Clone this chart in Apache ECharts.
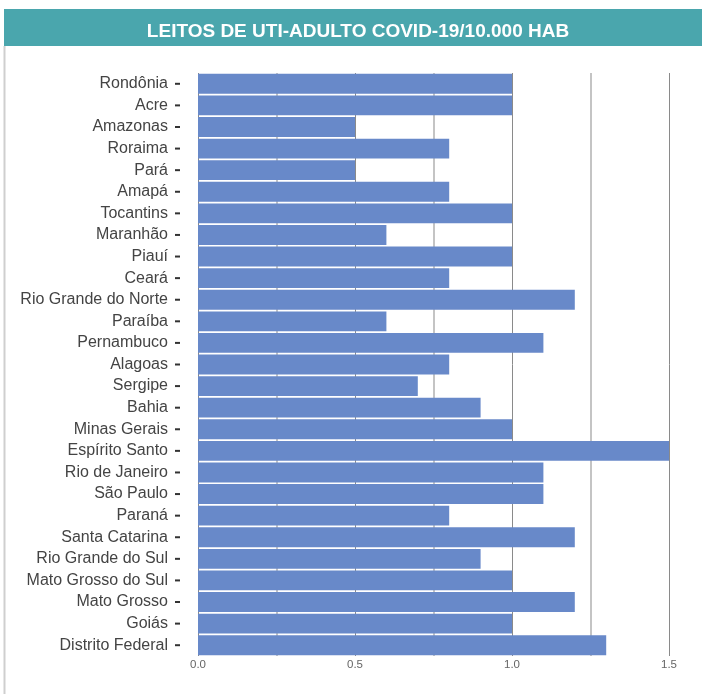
<!DOCTYPE html>
<html>
<head>
<meta charset="utf-8">
<script src="https://cdn.jsdelivr.net/npm/echarts@6/dist/echarts.min.js"></script>
<style>
  html, body { margin: 0; padding: 0; background: #fff; }
  #chart { width: 702px; height: 694px; }
</style>
</head>
<body>
<div id="chart"></div>
<script>
// estados (de cima para baixo)
const estados = [
  "Rondônia", "Acre", "Amazonas", "Roraima", "Pará", "Amapá", "Tocantins",
  "Maranhão", "Piauí", "Ceará", "Rio Grande do Norte", "Paraíba", "Pernambuco",
  "Alagoas", "Sergipe", "Bahia", "Minas Gerais", "Espírito Santo",
  "Rio de Janeiro", "São Paulo", "Paraná", "Santa Catarina",
  "Rio Grande do Sul", "Mato Grosso do Sul", "Mato Grosso", "Goiás",
  "Distrito Federal"
];
// leitos por 10.000 habitantes
const leitos = [
  1.0, 1.0, 0.5, 0.8, 0.5, 0.8, 1.0,
  0.6, 1.0, 0.8, 1.2, 0.6, 1.1,
  0.8, 0.7, 0.9, 1.0, 1.5,
  1.1, 1.1, 0.8, 1.2,
  0.9, 1.0, 1.2, 1.0,
  1.3
];
const titulo = "LEITOS DE UTI-ADULTO COVID-19/10.000 HAB";

const chart = echarts.init(document.getElementById("chart"));
chart.setOption({
  animation: false,
  textStyle: { fontFamily: "Liberation Sans, Arial, sans-serif" },
  title: {
    text: titulo,
    left: 353,
    textAlign: "center",
    top: 17,
    textStyle: { color: "#fff", fontSize: 19, fontWeight: "bold" }
  },
  graphic: [
    {
      type: "rect",
      z: -1,
      shape: { x: 4, y: 9, width: 700, height: 37 },
      style: { fill: "#4aa6ad" }
    },
    {
      type: "line",
      z: -1,
      shape: { x1: 4.5, y1: 46, x2: 4.5, y2: 694 },
      style: { stroke: "#cfcfcf", lineWidth: 2 }
    }
  ],
  grid: { left: 198, right: 33, top: 73, bottom: 38 },
  xAxis: {
    type: "value",
    min: 0,
    max: 1.5,
    interval: 0.5,
    axisLine: { show: false },
    axisTick: { show: false },
    axisLabel: {
      color: "#666",
      fontSize: 11.5,
      margin: 3,
      formatter: v => v.toFixed(1)
    },
    splitLine: { show: true, lineStyle: { color: "#8a8a8a", width: 1 } },
    minorTick: { show: false, splitNumber: 2 },
    minorSplitLine: { show: true, lineStyle: { color: "#c4c4c4", width: 2 } }
  },
  yAxis: {
    type: "category",
    data: estados,
    inverse: true,
    axisLine: { show: false },
    axisTick: { show: false },
    axisLabel: {
      color: "#444",
      fontSize: 16,
      margin: 18,
      // o tracinho do tick fica junto ao rótulo
      formatter: v => "{n|" + v + "}{g| }{t| }",
      rich: {
        n: { color: "#444", fontSize: 16 },
        g: { width: 7 },
        t: { width: 5, height: 2, backgroundColor: "#333", fontSize: 2 }
      }
    },
    splitLine: { show: false }
  },
  series: [{
    type: "bar",
    data: leitos,
    barCategoryGap: "8%",
    itemStyle: { color: "#6889c9" }
  }]
});
</script>
</body>
</html>
